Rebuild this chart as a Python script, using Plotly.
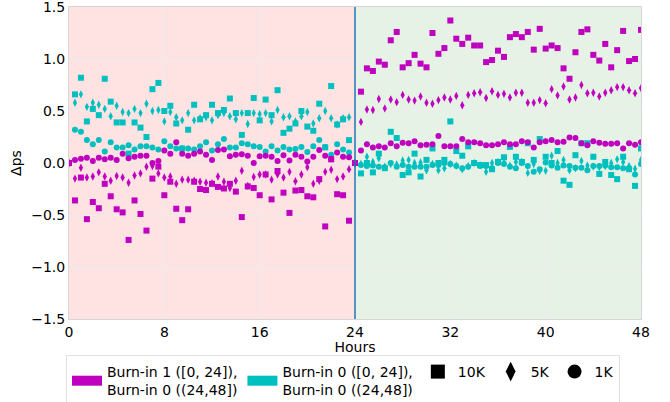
import plotly.graph_objects as go

hours = [i * 0.5 for i in range(97)]

cyan_10k = [0,
    .66, .82, .40, .52, .46, .81, .59, .39, .39, .09, .39, .34, .25, .71, .77, .50, .55, .38, .14, .32, .56, .42, .46, .56,
    .48, .51, .62, .48, .27, .48, .625, .41, .61, .46, .70, .29, .33, .38, .50, .35, .31, .57, .15, .74, .37, .42, .22,
    0,
    -.10, 0.0, -.09, .09, -.05, .30, .24, -.115, -.09, .09, -.13, .03, .14, 0.0, .03, .40, .115, .07, .16, 0.0, -.02, -.02, -.06, .01,
    .055, .155, .06, .01, .19, .03, .23, .06, 0.0, .115, -.17, -.21, .075, .19, .19, .06, -.105, .01, -.115, -.155, .06, -.06, -.22, .14]

cyan_5k = [0,
    .58, .66, .54, .58, .56, .52, .45, .55, .49, .48, .52, .48, .57, .50, .51, .40, .49, .44, .41, .48, .41, .43, .44, .41,
    .46, .48, .45, .42, .48, .375, .48, .47, .48, .40, .51, .44, .45, .40, .45, .49, .38, .43, .50, .43, .37, .43, .44,
    0,
    -.01, .06, .01, .045, -.035, -.01, -.015, .025, .03, 0, .005, -.07, -.01, -.07, -.05, -.01, -.025, -.06, -.03, 0, -.02, -.085, 0, .01,
    0, -.025, .01, .01, -.095, -.01, -.075, -.075, .07, 0, .03, -.07, -.05, .02, -.025, -.035, -.04, -.03, 0, .035, .01, -.03, -.055, .03]

cyan_1k = [0,
    .32, .30, .22, .18, .22, .11, .20, .15, .15, .17, .13, .16, .16, .15, .13, .21, .16, .14, .14, .14, .13, .16, .20, .12,
    .18, .23, .15, .15, .19, .18, .16, .155, .11, .16, .12, .155, .13, .135, .155, .105, .16, .22, .155, .08, .18, .13, .10,
    0,
    -.02, -.03, -.025, -.035, -.04, 0, -.035, -.02, -.035, -.035, -.035, -.035, -.02, -.02, 0, -.01, -.03, -.05, -.035, 0, -.03, -.03, -.05, 0,
    -.01, -.035, -.05, 0, -.03, -.085, -.06, .005, -.025, -.045, -.025, -.03, -.045, -.045, -.07, -.03, -.03, -.025, -.04, -.04, -.05, -.05, -.11, -.01]

mag_1k = [0,
    .03, .04, .05, .02, .05, .035, .05, .03, .09, .045, .06, .07, .07, 0, .02, .12, .09, .20, .09, .07, .09, .11, .08, .03,
    .125, .13, .065, .08, .085, .07, 0, .065, .07, .06, .02, .075, .025, .08, .06, .015, .06, .125, .07, .04, .10, .06, .055,
    0,
    .12, .18, .15, .16, .15, .19, .16, .195, .19, .21, .17, .175, .18, .26, .16, .16, .16, .23, .20, .20, .19, .17, .17, .18,
    .20, .18, .18, .21, .20, .15, .20, .21, .22, .20, .205, .245, .24, .19, .17, .21, .195, .185, .185, .19, .14, .19, .175, .20]

mag_5k = [0,
    -.15, -.045, -.14, -.13, -.09, -.13, -.17, -.125, -.14, -.19, -.12, -.10, -.035, -.03, -.10, -.14, -.13, -.20, -.16, -.16, -.17, -.18, -.19, -.195,
    -.13, -.18, -.24, -.17, -.075, -.22, -.135, -.11, -.11, -.16, -.11, -.14, -.085, -.175, -.11, -.04, -.20, -.17, -.085, -.065, -.155, -.13, -.06,
    0,
    .395, .515, .51, .615, .525, .61, .585, .655, .61, .60, .64, .58, .57, .605, .63, .61, .645, .555, .655, .67, .68, .625, .69, .655,
    .665, .63, .675, .675, .58, .58, .605, .575, .71, .65, .735, .61, .63, .75, .67, .675, .64, .675, .70, .73, .73, .70, .67, .72]

mag_10k = [0,
    -.36, -.14, -.54, -.375, -.435, -.20, -.32, -.445, -.475, -.74, -.36, -.49, -.65, -.15, -.035, -.31, -.18, -.44, -.55, -.445, -.18, -.25, -.26, -.20,
    -.23, -.245, -.20, -.275, -.52, -.225, -.24, -.31, -.11, -.35, -.077, -.285, -.48, -.265, -.26, -.32, -.33, -.155, -.61, .035, -.30, -.31, -.555,
    0,
    .686, .91, .885, .975, .945, 1.18, 1.26, .92, .96, 1.04, .955, .92, 1.25, 1.05, 1.105, 1.37, 1.195, 1.145, 1.205, 1.13, 1.13, .97, .99, 1.08,
    1.02, 1.21, 1.24, 1.21, 1.26, 1.09, 1.29, 1.10, 1.13, 1.105, .91, .81, 1.065, 1.26, 1.285, 1.04, .985, 1.145, .92, 1.085, 1.27, .98, 1.00, 1.28]

x_ticks = [0, 8, 16, 24, 32, 40, 48]
y_ticks = [-1.5, -1.0, -0.5, 0.0, 0.5, 1.0, 1.5]
y_tick_labels = ["\u22121.5", "\u22121.0", "\u22120.5", "0.0", "0.5", "1.0", "1.5"]
legend_names = ["Burn-in 1 ([0, 24]),<br>Burn-in 0 ((24,48])",
                "Burn-in 0 ([0, 24]),<br>Burn-in 0 ((24,48])",
                "10K", "5K", "1K"]

MAG = "#bf00bf"
CYA = "#00bfbf"
FONT = "DejaVu Sans"

fig = go.Figure()

series = [
    (cyan_1k, CYA, "circle"),
    (cyan_5k, CYA, "diamond-tall"),
    (cyan_10k, CYA, "square"),
    (mag_1k, MAG, "circle"),
    (mag_5k, MAG, "diamond-tall"),
    (mag_10k, MAG, "square"),
]
for vals, col, sym in series:
    fig.add_trace(go.Scatter(x=hours, y=vals, mode="markers",
                             marker=dict(color=col, symbol=sym, size=6, line=dict(width=0)),
                             showlegend=False, hoverinfo="skip"))

# legend entries
fig.add_trace(go.Scatter(x=[None], y=[None], mode="lines", name=legend_names[0],
                         line=dict(color=MAG, width=10)))
fig.add_trace(go.Scatter(x=[None], y=[None], mode="lines", name=legend_names[1],
                         line=dict(color=CYA, width=10)))
for nm, sym in zip(legend_names[2:], ["square", "diamond-tall", "circle"]):
    fig.add_trace(go.Scatter(x=[None], y=[None], mode="markers", name=nm,
                             marker=dict(color="black", symbol=sym, size=14)))

fig.add_shape(type="rect", xref="x", yref="paper", x0=0, x1=24, y0=0, y1=1,
              fillcolor="rgba(255,0,0,0.11)", line=dict(width=0), layer="below")
fig.add_shape(type="rect", xref="x", yref="paper", x0=24, x1=48, y0=0, y1=1,
              fillcolor="rgba(0,128,0,0.1)", line=dict(width=0), layer="below")
fig.add_shape(type="line", xref="x", yref="paper", x0=24, x1=24, y0=0, y1=1,
              line=dict(color="#1f77b4", width=1.5), layer="above")

fig.update_layout(
    width=670, height=402,
    margin=dict(l=69, r=29, t=7, b=83),
    paper_bgcolor="white", plot_bgcolor="white",
    font=dict(family=FONT, size=14, color="black"),
    showlegend=True,
    legend=dict(orientation="h", x=66 / 670, xanchor="left", xref="container",
                y=1 - 355 / 402, yanchor="top", yref="container",
                bordercolor="#e0e0e0", borderwidth=1, bgcolor="white",
                font=dict(family=FONT, size=14), tracegroupgap=0, itemwidth=30),
    xaxis=dict(range=[0, 48], tickvals=x_ticks, ticktext=[str(t) for t in x_ticks],
               showgrid=True, gridcolor="#ececec", gridwidth=1, zeroline=False,
               showline=True, linecolor="#d6d6d6", mirror=True, ticks="",
               ticklabeloverflow="allow", automargin=False,
               title=dict(text="Hours", standoff=0, font=dict(size=14))),
    yaxis=dict(range=[-1.5, 1.5], tickvals=y_ticks, ticktext=y_tick_labels,
               showgrid=True, gridcolor="#ececec", gridwidth=1, zeroline=False,
               showline=True, linecolor="#d6d6d6", mirror=True, ticks="",
               ticklabeloverflow="allow", automargin=False,
               title=dict(text="\u0394ps", standoff=6, font=dict(size=14))),
)

fig.write_html("out.html")
